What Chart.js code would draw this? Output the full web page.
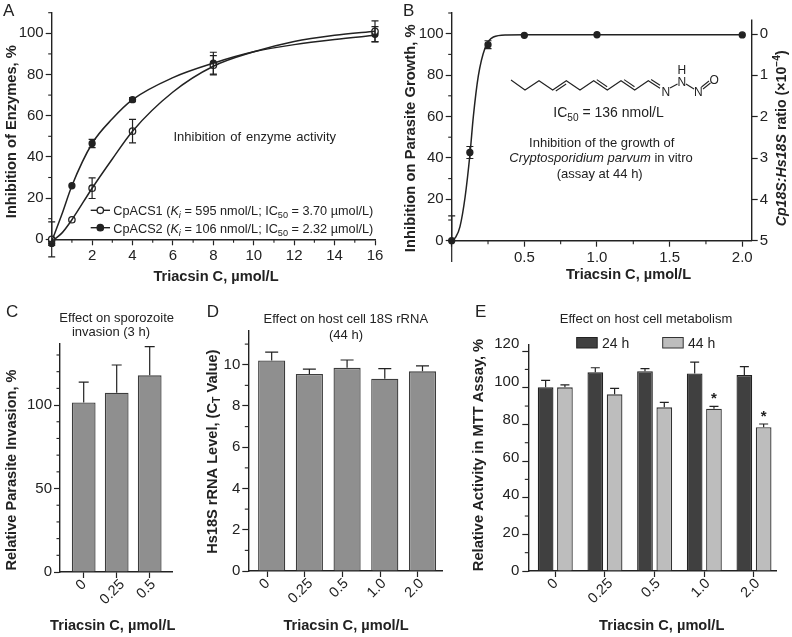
<!DOCTYPE html>
<html>
<head>
<meta charset="utf-8">
<title>Triacsin C</title>
<script src="https://cdn.jsdelivr.net/npm/chart.js@4"></script>
<style>
html, body { margin: 0; padding: 0; background: #fff; }
body { position: relative; width: 792px; height: 637px; overflow: hidden; }
canvas { position: absolute; }
</style>
</head>
<body>
<script>
// panel A, enzyme inhibition
const aDoses = [0, 1, 2, 4, 8, 16];
const acs1Values = [0, 9.5, 24.8, 52.5, 84.5, 101];
const acs1Errors = [8.5, 0, 5, 5.7, 4.7, 5];
const acs2Values = [-2, 26, 46.5, 67.8, 85.5, 99.5];
const acs2Errors = [1, 0, 2, 1, 5.3, 3.7];
const aCurveDoses = [0, 0.5, 1, 2, 3, 4, 6, 8, 10, 12, 14, 16];
const acs1Curve = [-1, 3, 9.5, 24.8, 39, 52.5, 71.5, 84, 91, 96, 99, 101];
const acs2Curve = [-1, 12, 26, 46.5, 58.5, 67.8, 78.5, 85.5, 91, 94.5, 97, 99];
const aXTicks = [0, 2, 4, 6, 8, 10, 12, 14, 16];
const aXLabels = ['', '2', '4', '6', '8', '10', '12', '14', '16'];
const aYTicks = [0, 20, 40, 60, 80, 100];

// panel B, parasite growth
const bDoses = [0, 0.125, 0.25, 0.5, 1, 2];
const bValues = [0, 42.6, 94.7, 99.2, 99.5, 99.4];
const bErrors = [12, 2.9, 1.9, 0, 0, 0];
const bCurveDoses = [0, 0.03, 0.057, 0.092, 0.126, 0.149, 0.183, 0.229, 0.287, 0.379, 0.5, 1, 2];
const bCurve = [0, 2, 6.8, 21, 42, 60, 79.5, 93, 98.4, 99.4, 99.5, 99.5, 99.5];
const bXTicks = [0, 0.5, 1, 1.5, 2];
const bXLabels = ['', '0.5', '1.0', '1.5', '2.0'];
const bYTicks = [0, 20, 40, 60, 80, 100];
const bRatioTicks = [0, 1, 2, 3, 4, 5];

// panel C, invasion
const cCategories = ['0', '0.25', '0.5'];
const cValues = [101.6, 107.4, 117.8];
const cErrors = [12.2, 16.6, 17.2];
const cYTicks = [0, 50, 100];

// panel D, host 18S
const dCategories = ['0', '0.25', '0.5', '1.0', '2.0'];
const dValues = [10.21, 9.55, 9.85, 9.32, 9.68];
const dErrors = [0.4, 0.24, 0.38, 0.49, 0.26];
const dYTicks = [0, 2, 4, 6, 8, 10];

// panel E, MTT
const eCategories = ['0', '0.25', '0.5', '1.0', '2.0'];
const eSeriesNames = ['24 h', '44 h'];
const e24Values = [100.2, 108.4, 109, 107.8, 106.9];
const e24Errors = [3.8, 2.5, 1.4, 6.2, 4.6];
const e44Values = [100.2, 96.4, 89.3, 88.5, 78.4];
const e44Errors = [1.4, 3.2, 2.7, 1.3, 1.8];
const e44Marked = [false, false, false, true, true];
const eYTicks = [0, 20, 40, 60, 80, 100, 120];

const INK = '#222';
const FAMILY = '"Liberation Sans", Arial, sans-serif';

function runFont(size, bold, italic) {
    return (italic ? 'italic ' : '') + (bold ? 'bold ' : '') + size + 'px ' + FAMILY;
}

// text with italic / sub / sup runs. a run is a string or [string, 'i'|'sub'|'isub'|'sup']
function drawText(ctx, t) {
    const runs = Array.isArray(t.runs) ? t.runs : [t.runs];
    const size = t.size || 13;
    ctx.save();
    ctx.translate(t.x, t.y);
    if (t.up) ctx.rotate(-Math.PI / 2);
    ctx.fillStyle = t.color || INK;
    ctx.textBaseline = 'alphabetic';
    ctx.textAlign = 'left';
    ctx.wordSpacing = (t.word || 0) + 'px';
    const parts = runs.map(function (r) {
        const text = typeof r === 'string' ? r : r[0];
        const kind = typeof r === 'string' ? '' : r[1];
        const small = kind.indexOf('sub') >= 0 || kind.indexOf('sup') >= 0;
        const font = runFont(small ? size * 0.72 : size, t.bold, kind.indexOf('i') === 0);
        ctx.font = font;
        return { text: text, font: font, w: ctx.measureText(text).width,
            dy: kind.indexOf('sub') >= 0 ? size * 0.25 : kind.indexOf('sup') >= 0 ? -size * 0.4 : 0 };
    });
    const total = parts.reduce(function (a, p) { return a + p.w; }, 0);
    let cx = t.center ? -total / 2 : 0;
    parts.forEach(function (p) {
        ctx.font = p.font;
        ctx.fillText(p.text, cx, p.dy);
        cx += p.w;
    });
    ctx.restore();
}

function polyline(ctx, pts, width) {
    ctx.beginPath();
    pts.forEach(function (p, i) { i ? ctx.lineTo(p[0], p[1]) : ctx.moveTo(p[0], p[1]); });
    ctx.lineWidth = width || 1.1;
    ctx.strokeStyle = INK;
    ctx.stroke();
}

// the slanted dose labels all hang from one line, roughly centred under their tick
function drawSlantedLabels(ctx, scale, labels) {
    ctx.save();
    ctx.font = runFont(14.5, false, false);
    ctx.fillStyle = INK;
    ctx.textAlign = 'center';
    ctx.textBaseline = 'middle';
    scale.ticks.forEach(function (tick, i) {
        const w = ctx.measureText(labels[i]).width;
        const px = scale.getPixelForValue(tick.value) - 1.5 - w * 0.1;
        const py = scale.top + 6.5 + (w + 10.5) * 0.354;
        ctx.save();
        ctx.translate(px, py);
        ctx.rotate(-Math.PI / 4);
        ctx.fillText(labels[i], 0, 0);
        ctx.restore();
    });
    ctx.restore();
}

// minor ticks, error bars and all the loose text of a panel
const decoPlugin = {
    id: 'deco',
    afterDatasetsDraw: function (chart) {
        const ctx = chart.ctx;
        const y = chart.scales.y;
        ctx.save();
        if (chart.$deco.clipBottom) {
            ctx.beginPath();
            ctx.rect(0, 0, chart.width, chart.$deco.clipBottom);
            ctx.clip();
        }
        ctx.strokeStyle = INK;
        ctx.lineWidth = 1.2;
        chart.data.datasets.forEach(function (ds, di) {
            if (!ds.errors) return;
            const meta = chart.getDatasetMeta(di);
            ds.errors.forEach(function (err, i) {
                if (!err) return;
                const px = meta.data[i].x;
                const v = ds.data[i].y;
                const cap = ds.capSize;
                const top = y.getPixelForValue(v + err);
                const low = ds.upOnly ? y.getPixelForValue(v) : y.getPixelForValue(v - err);
                ctx.beginPath();
                ctx.moveTo(px, low);
                ctx.lineTo(px, top);
                ctx.moveTo(px - cap, top);
                ctx.lineTo(px + cap, top);
                if (!ds.upOnly) {
                    ctx.moveTo(px - cap, low);
                    ctx.lineTo(px + cap, low);
                }
                ctx.stroke();
            });
        });
        ctx.restore();
    },
    afterDraw: function (chart) {
        const ctx = chart.ctx;
        const deco = chart.$deco;
        // minor ticks
        ctx.save();
        ctx.strokeStyle = INK;
        ctx.lineWidth = 1.1;
        (deco.minor || []).forEach(function (m) {
            const s = chart.scales[m.axis];
            m.values.forEach(function (v) {
                const p = s.getPixelForValue(v);
                ctx.beginPath();
                if (s.isHorizontal()) {
                    ctx.moveTo(p, s.top);
                    ctx.lineTo(p, s.top + 3.5);
                } else {
                    ctx.moveTo(s.right, p);
                    ctx.lineTo(s.right - 3.5, p);
                }
                ctx.stroke();
            });
        });
        ctx.restore();
        if (deco.slanted) drawSlantedLabels(ctx, chart.scales.x, deco.slanted);
        ctx.save();
        ctx.translate(-deco.box.x, -deco.box.y);
        if (deco.draw) deco.draw(ctx, chart);
        (deco.texts || []).forEach(function (t) { drawText(ctx, t); });
        ctx.restore();
    }
};

function axis(tickValues, tickLabels, min, max, extra) {
    return Object.assign({
        type: 'linear',
        min: min,
        max: max,
        offset: false,
        afterBuildTicks: function (s) {
            s.ticks = tickValues.map(function (v) { return { value: v }; });
        },
        grid: { drawOnChartArea: false, offset: false, tickLength: 6, tickColor: INK, tickWidth: 1.2 },
        border: { color: INK, width: 1.4 },
        ticks: {
            autoSkip: false,
            maxRotation: 0,
            minRotation: 0,
            padding: 2,
            color: INK,
            font: { family: FAMILY, size: 15 },
            callback: function (v, i) { return tickLabels[i]; }
        }
    }, extra || {});
}

function sizer(size, horizontal) {
    return function (s) {
        if (horizontal) s.height = size; else s.width = size;
        s.paddingLeft = s.paddingRight = s.paddingTop = s.paddingBottom = 0;
    };
}

function panel(box, plot, type, datasets, scales, deco) {
    const canvas = document.createElement('canvas');
    canvas.width = box.w;
    canvas.height = box.h;
    canvas.style.left = box.x + 'px';
    canvas.style.top = box.y + 'px';
    document.body.appendChild(canvas);
    scales.x.afterFit = sizer(box.y + box.h - plot.b, true);
    scales.y.afterFit = sizer(plot.l - box.x, false);
    return new Chart(canvas.getContext('2d'), {
        type: type,
        data: { datasets: datasets },
        options: {
            responsive: false,
            animation: false,
            layout: { padding: {
                top: plot.t - box.y,
                right: scales.ratio ? 0 : box.x + box.w - plot.r,
                left: 0,
                bottom: 0
            } },
            plugins: { legend: { display: false }, tooltip: { enabled: false } },
            scales: scales
        },
        plugins: [{ id: 'attach', beforeInit: function (c) { c.$deco = Object.assign({ box: box }, deco); } }, decoPlugin]
    });
}

function pairs(xs, ys) {
    return xs.map(function (x, i) { return { x: x, y: ys[i] }; });
}

function indexes(list) {
    return list.map(function (c, i) { return i; });
}

function curveSet(xs, ys) {
    return { type: 'line', data: pairs(xs, ys), borderColor: INK, borderWidth: 1.5, pointRadius: 0,
        cubicInterpolationMode: 'monotone', clip: false };
}

function pointSet(xs, ys, errs, fill, radius) {
    return { type: 'line', data: pairs(xs, ys), errors: errs, capSize: 3.5, showLine: false,
        pointRadius: radius, pointBackgroundColor: fill, pointBorderColor: INK, pointBorderWidth: 1.3, clip: false };
}

function barSet(categories, values, errors, fill, border, capSize) {
    return { data: pairs(indexes(categories), values), errors: errors, upOnly: true,
        capSize: capSize, backgroundColor: fill, borderColor: border, borderWidth: 1.3, clip: false };
}

function steps(from, to, step, skip) {
    const out = [];
    for (let v = from; v <= to + 1e-9; v += step) {
        if (!skip || Math.abs(v / skip - Math.round(v / skip)) > 1e-6) out.push(v);
    }
    return out;
}

function hideLabels(scale) {
    scale.ticks.display = false;
    return scale;
}

const TITLE_X = 'Triacsin C, µmol/L';

// A
panel({ x: 0, y: 0, w: 395, h: 300 }, { l: 51.7, t: 12.7, r: 375, b: 239.3 }, 'line', [
    curveSet(aCurveDoses, acs1Curve),
    curveSet(aCurveDoses, acs2Curve),
    pointSet(aDoses, acs1Values, acs1Errors, '#fff', 3.2),
    pointSet(aDoses, acs2Values, acs2Errors, INK, 3)
], {
    x: axis(aXTicks, aXLabels, 0, 16),
    y: axis(aYTicks, aYTicks.map(String), 0, 110)
}, {
    minor: [{ axis: 'x', values: steps(1, 15, 2) }, { axis: 'y', values: steps(10, 110, 20) }],
    draw: function (ctx) {
        [[210.3, '#fff'], [227.7, INK]].forEach(function (row) {
            polyline(ctx, [[90.7, row[0]], [110, row[0]]], 1.4);
            ctx.beginPath();
            ctx.arc(100.3, row[0], 3.2, 0, Math.PI * 2);
            ctx.fillStyle = row[1];
            ctx.fill();
            ctx.lineWidth = 1.3;
            ctx.strokeStyle = INK;
            ctx.stroke();
        });
    },
    texts: [
        { runs: 'A', x: 3, y: 15.5, size: 17 },
        { runs: 'Inhibition of enzyme activity', x: 173.5, y: 140.5, size: 13, word: 1.2 },
        { runs: ['CpACS1 (', ['K', 'i'], ['i', 'isub'], ' = 595 nmol/L; IC', ['50', 'sub'], ' = 3.70 µmol/L)'], x: 113.3, y: 214.5, size: 12.7 },
        { runs: ['CpACS2 (', ['K', 'i'], ['i', 'isub'], ' = 106 nmol/L; IC', ['50', 'sub'], ' = 2.32 µmol/L)'], x: 113.3, y: 232.5, size: 12.7 },
        { runs: TITLE_X, x: 216, y: 281, size: 14.6, bold: true, center: true },
        { runs: 'Inhibition of Enzymes, %', x: 15.7, y: 131.7, size: 14.7, bold: true, center: true, up: true }
    ]
});

// B
panel({ x: 395, y: 0, w: 397, h: 300 }, { l: 451.7, t: 13, r: 751.7, b: 240.7 }, 'line', [
    curveSet(bCurveDoses, bCurve),
    pointSet(bDoses, bValues, bErrors, INK, 3)
], {
    x: axis(bXTicks, bXLabels, 0, 2.065),
    y: axis(bYTicks, bYTicks.map(String), 0, 110),
    ratio: axis(bRatioTicks, bRatioTicks.map(String), -0.508, 5, {
        position: 'right',
        reverse: true,
        border: { display: false },
        afterFit: sizer(40.3, false)
    })
}, {
    clipBottom: 262,
    minor: [{ axis: 'x', values: steps(0.25, 1.75, 0.5) }, { axis: 'y', values: steps(10, 110, 20) }],
    draw: function (ctx, chart) {
        const r = chart.scales.ratio;
        // right axis stops short of the top
        ctx.save();
        ctx.translate(395, 0);
        polyline(ctx, [[r.left, r.getPixelForValue(-0.35)], [r.left, r.getPixelForValue(5)]], 1.4);
        ctx.restore();
        // triacsin C skeleton
        const chain = [[511, 80], [525, 90], [539, 80.7], [552.7, 90], [566.3, 80.7], [580, 90], [593.7, 80.7], [607.3, 90], [621, 80.7], [634.7, 90], [648.3, 80.7], [660, 88.3]];
        polyline(ctx, chain);
        [[3, 4], [6, 7], [8, 9], [10, 11]].forEach(function (b) {
            const p = chain[b[0]], q = chain[b[1]];
            const dx = q[0] - p[0], dy = q[1] - p[1], n = Math.hypot(dx, dy);
            const ox = -dy / n * 2.6 * (dy > 0 ? -1 : 1), oy = dx / n * 2.6 * (dy > 0 ? -1 : 1);
            polyline(ctx, [[p[0] + dx * 0.12 + ox, p[1] + dy * 0.12 + oy], [q[0] - dx * 0.12 + ox, q[1] - dy * 0.12 + oy]]);
        });
        polyline(ctx, [[670, 88], [677.5, 84]]);
        polyline(ctx, [[686, 84], [694, 89]]);
        polyline(ctx, [[703, 89], [710.5, 83]]);
        polyline(ctx, [[701.5, 87], [709, 81]]);
    },
    texts: [
        { runs: 'B', x: 403, y: 15.5, size: 17 },
        { runs: 'N', x: 661.4, y: 96, size: 12 },
        { runs: 'H', x: 677.4, y: 73.5, size: 12 },
        { runs: 'N', x: 677.4, y: 85.5, size: 12 },
        { runs: 'N', x: 694, y: 96, size: 12 },
        { runs: 'O', x: 709.6, y: 84, size: 12 },
        { runs: ['IC', ['50', 'sub'], ' = 136 nmol/L'], x: 553.3, y: 117.3, size: 14 },
        { runs: 'Inhibition of the growth of', x: 601.7, y: 146.7, size: 13, center: true },
        { runs: [['Cryptosporidium parvum', 'i'], ' in vitro'], x: 601, y: 161.7, size: 13, center: true },
        { runs: '(assay at 44 h)', x: 599.7, y: 178, size: 13, center: true },
        { runs: TITLE_X, x: 628.5, y: 278.5, size: 14.6, bold: true, center: true },
        { runs: 'Inhibition on Parasite Growth, %', x: 415, y: 138.3, size: 14.8, bold: true, center: true, up: true },
        { runs: [['Cp18S:Hs18S', 'i'], ' ratio (×10', ['−4', 'sup'], ')'], x: 786, y: 138.3, size: 14.2, bold: true, center: true, up: true }
    ]
});

// C
panel({ x: 0, y: 300, w: 195, h: 337 }, { l: 60, t: 343.3, r: 172.7, b: 572 }, 'bar', [
    barSet(cCategories, cValues, cErrors, '#8f8f8f', '#3c3c3c', 5)
], {
    x: hideLabels(axis(indexes(cCategories), cCategories, -0.718, 2.697)),
    y: axis(cYTicks, cYTicks.map(String), 0, 137)
}, {
    slanted: cCategories,
    minor: [{ axis: 'y', values: steps(10, 130, 10, 50) }],
    texts: [
        { runs: 'C', x: 6, y: 316.5, size: 17 },
        { runs: 'Effect on sporozoite', x: 116.7, y: 321.5, size: 13, center: true },
        { runs: 'invasion (3 h)', x: 111, y: 336, size: 13, center: true },
        { runs: TITLE_X, x: 112.7, y: 630, size: 14.6, bold: true, center: true },
        { runs: 'Relative Parasite Invasion, %', x: 15.7, y: 470, size: 14.6, bold: true, center: true, up: true }
    ]
});

// D
panel({ x: 195, y: 300, w: 265, h: 337 }, { l: 248.3, t: 330.7, r: 442.7, b: 571 }, 'bar', [
    barSet(dCategories, dValues, dErrors, '#8f8f8f', '#3c3c3c', 6.5)
], {
    // ticks of this panel sit a little left of the bars, as in the figure
    x: hideLabels(axis(indexes(dCategories).map(function (i) { return i - 0.12; }), dCategories, -0.62, 4.536)),
    y: axis(dYTicks, dYTicks.map(String), 0, 11.65)
}, {
    slanted: dCategories,
    minor: [{ axis: 'y', values: steps(1, 11, 2) }],
    texts: [
        { runs: 'D', x: 206.7, y: 316.5, size: 17 },
        { runs: 'Effect on host cell 18S rRNA', x: 345.8, y: 323.3, size: 13, center: true },
        { runs: '(44 h)', x: 346, y: 339.3, size: 13, center: true },
        { runs: TITLE_X, x: 346, y: 630, size: 14.6, bold: true, center: true },
        { runs: ['Hs18S rRNA Level, (C', ['T', 'sub'], ' Value)'], x: 216.7, y: 451.7, size: 14.6, bold: true, center: true, up: true }
    ]
});

// E
panel({ x: 460, y: 300, w: 332, h: 337 }, { l: 528.3, t: 344.3, r: 776.7, b: 571 }, 'bar', [
    Object.assign(barSet(eCategories, e24Values, e24Errors, '#404040', '#222', 4.5), { categoryPercentage: 0.777, barPercentage: 0.813 }),
    Object.assign(barSet(eCategories, e44Values, e44Errors, '#bdbdbd', '#333', 4.5), { categoryPercentage: 0.777, barPercentage: 0.813 })
], {
    x: hideLabels(axis(indexes(eCategories), eCategories, -0.543, 4.457)),
    y: hideLabels(axis(eYTicks, eYTicks.map(String), 0, 123.7))
}, {
    slanted: eCategories,
    minor: [{ axis: 'y', values: steps(10, 110, 20) }],
    draw: function (ctx, chart) {
        const y = chart.scales.y;
        ctx.save();
        ctx.translate(460, 300);
        // the y labels of this panel drift up from their ticks towards the top
        ctx.font = runFont(15, false, false);
        ctx.fillStyle = INK;
        ctx.textAlign = 'right';
        ctx.textBaseline = 'middle';
        eYTicks.forEach(function (v) {
            ctx.fillText(String(v), y.right - 9, y.getPixelForValue(v) - v * 0.06);
        });
        // significance stars
        ctx.font = runFont(15, true, false);
        ctx.textAlign = 'center';
        ctx.textBaseline = 'alphabetic';
        const meta = chart.getDatasetMeta(1);
        e44Marked.forEach(function (m, i) {
            if (m) ctx.fillText('*', meta.data[i].x, y.getPixelForValue(e44Values[i] + e44Errors[i]) - 3);
        });
        ctx.restore();
        // legend
        [[576.7, '#404040', '#222'], [662.7, '#bdbdbd', '#333']].forEach(function (k) {
            ctx.fillStyle = k[1];
            ctx.fillRect(k[0], 337.5, 20.5, 10.5);
            ctx.strokeStyle = k[2];
            ctx.lineWidth = 1;
            ctx.strokeRect(k[0], 337.5, 20.5, 10.5);
        });
    },
    texts: [
        { runs: 'E', x: 475, y: 316.5, size: 17 },
        { runs: 'Effect on host cell metabolism', x: 646, y: 323.3, size: 13, center: true },
        { runs: eSeriesNames[0], x: 602, y: 348, size: 14 },
        { runs: eSeriesNames[1], x: 688, y: 348, size: 14 },
        { runs: TITLE_X, x: 661.7, y: 630, size: 14.6, bold: true, center: true },
        { runs: 'Relative Activity in MTT Assay, %', x: 482.7, y: 455, size: 14.7, bold: true, center: true, up: true }
    ]
});
</script>
</body>
</html>
